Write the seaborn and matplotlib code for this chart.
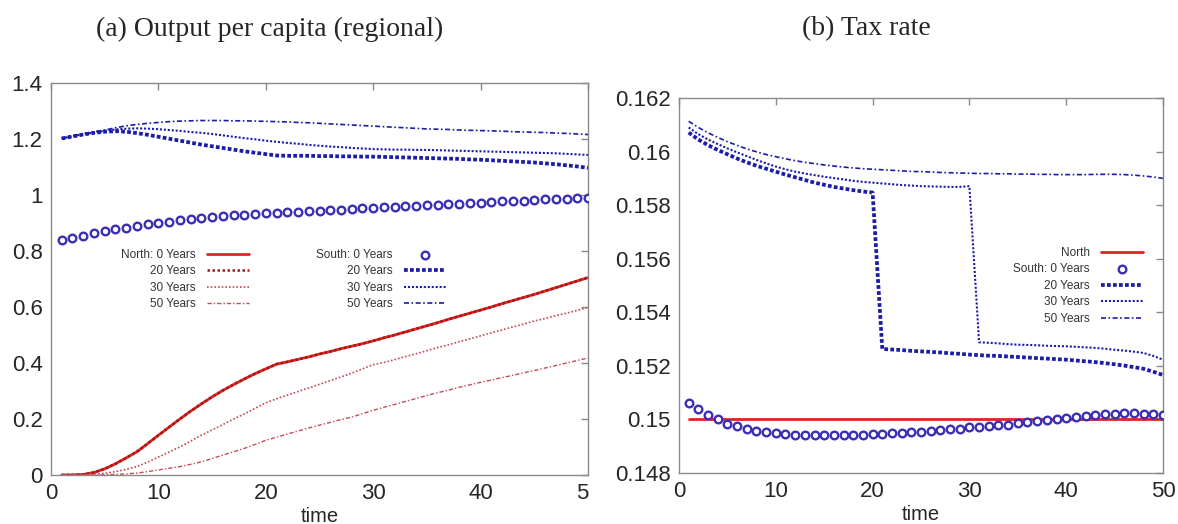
import matplotlib
matplotlib.use("Agg")
import matplotlib.pyplot as plt
import seaborn as sns
from matplotlib.transforms import Bbox, TransformedBbox

# time axis, years 1..50
time = list(range(1, 51))

# (a) output per capita, south
south_0_a = [0.839, 0.847, 0.855, 0.863, 0.870, 0.877, 0.883, 0.889, 0.895, 0.900,
             0.905, 0.909, 0.913, 0.917, 0.921, 0.924, 0.927, 0.929, 0.932, 0.934,
             0.936, 0.938, 0.940, 0.942, 0.944, 0.946, 0.948, 0.950, 0.952, 0.954,
             0.956, 0.958, 0.960, 0.962, 0.964, 0.966, 0.967, 0.969, 0.971, 0.973,
             0.975, 0.977, 0.978, 0.980, 0.982, 0.984, 0.985, 0.987, 0.988, 0.990]
south_20_a = [1.202, 1.209, 1.216, 1.222, 1.226, 1.228, 1.226, 1.221, 1.215, 1.208,
              1.201, 1.194, 1.187, 1.180, 1.174, 1.168, 1.162, 1.156, 1.151, 1.146,
              1.141, 1.140, 1.140, 1.140, 1.139, 1.139, 1.138, 1.138, 1.137, 1.137,
              1.136, 1.135, 1.134, 1.133, 1.132, 1.131, 1.130, 1.129, 1.127, 1.126,
              1.124, 1.122, 1.120, 1.118, 1.116, 1.113, 1.110, 1.106, 1.102, 1.097]
south_30_a = [1.202, 1.210, 1.217, 1.223, 1.229, 1.234, 1.237, 1.238, 1.237, 1.235,
              1.232, 1.229, 1.225, 1.222, 1.218, 1.213, 1.208, 1.203, 1.199, 1.194,
              1.190, 1.186, 1.183, 1.179, 1.176, 1.173, 1.171, 1.168, 1.166, 1.164,
              1.163, 1.162, 1.162, 1.161, 1.161, 1.160, 1.159, 1.158, 1.157, 1.156,
              1.155, 1.154, 1.153, 1.152, 1.151, 1.150, 1.149, 1.147, 1.145, 1.143]
south_50_a = [1.202, 1.211, 1.219, 1.226, 1.232, 1.240, 1.247, 1.252, 1.256, 1.259,
              1.262, 1.264, 1.265, 1.266, 1.266, 1.266, 1.265, 1.265, 1.264, 1.263,
              1.262, 1.261, 1.259, 1.258, 1.256, 1.254, 1.252, 1.250, 1.248, 1.246,
              1.244, 1.242, 1.240, 1.238, 1.236, 1.235, 1.234, 1.232, 1.231, 1.230,
              1.229, 1.228, 1.226, 1.225, 1.224, 1.223, 1.221, 1.220, 1.218, 1.216]

# (a) output per capita, north
north_20_a = [0.000, 0.0005, 0.002, 0.009, 0.022, 0.040, 0.061, 0.083, 0.112, 0.142,
              0.171, 0.200, 0.228, 0.254, 0.279, 0.302, 0.323, 0.343, 0.362, 0.379,
              0.396, 0.404, 0.413, 0.422, 0.432, 0.441, 0.451, 0.460, 0.469, 0.479,
              0.490, 0.500, 0.511, 0.522, 0.533, 0.544, 0.556, 0.567, 0.578, 0.589,
              0.600, 0.612, 0.623, 0.634, 0.645, 0.657, 0.669, 0.681, 0.693, 0.705]
# the solid 0-year line sits right under the 20-year one in the picture
north_0_a = list(north_20_a)
north_30_a = [0.000, 0.000, 0.001, 0.003, 0.006, 0.012, 0.020, 0.030, 0.046, 0.064,
              0.082, 0.100, 0.121, 0.142, 0.161, 0.180, 0.200, 0.218, 0.238, 0.258,
              0.272, 0.285, 0.298, 0.311, 0.324, 0.337, 0.350, 0.364, 0.379, 0.394,
              0.402, 0.412, 0.423, 0.433, 0.444, 0.455, 0.465, 0.476, 0.486, 0.497,
              0.508, 0.518, 0.529, 0.539, 0.550, 0.559, 0.569, 0.578, 0.588, 0.598]
north_50_a = [0.000, 0.000, 0.000, 0.000, 0.001, 0.002, 0.004, 0.007, 0.012, 0.018,
              0.024, 0.030, 0.038, 0.047, 0.059, 0.071, 0.083, 0.095, 0.109, 0.124,
              0.135, 0.146, 0.157, 0.168, 0.178, 0.188, 0.198, 0.207, 0.219, 0.231,
              0.242, 0.252, 0.263, 0.273, 0.284, 0.294, 0.303, 0.313, 0.322, 0.331,
              0.339, 0.348, 0.356, 0.365, 0.373, 0.382, 0.391, 0.400, 0.409, 0.418]

# (b) tax rate
north_b = [0.15] * 50
south_0_b = [0.15063, 0.15040, 0.15018, 0.15000, 0.14984, 0.14974, 0.14965, 0.14958, 0.14953, 0.14950,
             0.14946, 0.14943, 0.14942, 0.14942, 0.14942, 0.14942, 0.14942, 0.14943, 0.14943, 0.14944,
             0.14946, 0.14948, 0.14950, 0.14952, 0.14954, 0.14957, 0.14960, 0.14963, 0.14966, 0.14970,
             0.14972, 0.14975, 0.14978, 0.14981, 0.14985, 0.14989, 0.14994, 0.14999, 0.15002, 0.15005,
             0.15008, 0.15011, 0.15015, 0.15019, 0.15021, 0.15023, 0.15023, 0.15022, 0.15019, 0.15015]
south_20_b = [0.16071, 0.16045, 0.16024, 0.16006, 0.15990, 0.15974, 0.15960, 0.15947, 0.15936, 0.15925,
              0.15914, 0.15904, 0.15894, 0.15884, 0.15876, 0.15868, 0.15862, 0.15856, 0.15851, 0.15847,
              0.15263, 0.15261, 0.15259, 0.15256, 0.15254, 0.15252, 0.15250, 0.15247, 0.15245, 0.15242,
              0.15240, 0.15238, 0.15237, 0.15235, 0.15233, 0.15231, 0.15229, 0.15227, 0.15225, 0.15223,
              0.15220, 0.15217, 0.15214, 0.15210, 0.15206, 0.15201, 0.15195, 0.15189, 0.15178, 0.15166]
south_30_b = [0.16090, 0.16065, 0.16045, 0.16028, 0.16012, 0.15997, 0.15983, 0.15969, 0.15956, 0.15944,
              0.15934, 0.15925, 0.15918, 0.15912, 0.15906, 0.15901, 0.15896, 0.15891, 0.15887, 0.15884,
              0.15881, 0.15878, 0.15875, 0.15873, 0.15871, 0.15870, 0.15869, 0.15868, 0.15868, 0.15871,
              0.15288, 0.15286, 0.15284, 0.15281, 0.15279, 0.15278, 0.15277, 0.15275, 0.15274, 0.15273,
              0.15271, 0.15269, 0.15267, 0.15264, 0.15260, 0.15257, 0.15253, 0.15248, 0.15237, 0.15223]
south_50_b = [0.16113, 0.16090, 0.16070, 0.16053, 0.16037, 0.16023, 0.16010, 0.15999, 0.15989, 0.15981,
              0.15973, 0.15966, 0.15960, 0.15955, 0.15950, 0.15946, 0.15942, 0.15939, 0.15936, 0.15934,
              0.15932, 0.15930, 0.15928, 0.15926, 0.15925, 0.15924, 0.15922, 0.15921, 0.15920, 0.15919,
              0.15918, 0.15918, 0.15917, 0.15917, 0.15916, 0.15916, 0.15915, 0.15915, 0.15914, 0.15914,
              0.15914, 0.15914, 0.15915, 0.15915, 0.15915, 0.15914, 0.15912, 0.15909, 0.15905, 0.15900]

# ticks
x_ticks = [0, 10, 20, 30, 40, 50]
y_ticks_a = [0, 0.2, 0.4, 0.6, 0.8, 1.0, 1.2, 1.4]
y_labels_a = ["0", "0.2", "0.4", "0.6", "0.8", "1", "1.2", "1.4"]
y_ticks_b = [0.148, 0.150, 0.152, 0.154, 0.156, 0.158, 0.160, 0.162]
y_labels_b = ["0.148", "0.15", "0.152", "0.154", "0.156", "0.158", "0.16", "0.162"]

titles = ["(a) Output per capita (regional)", "(b) Tax rate"]

sns.set_style("white")
plt.rcParams['font.family'] = ['Liberation Sans', 'DejaVu Sans']

RED = "#e02222"
DRED = "#a01818"
PRED = "#c84858"
BLUE = "#1c1ca8"
CIRC = "#3b2fb5"
GRAY = "#8a8a8a"

fig = plt.figure(figsize=(11.78, 5.24), dpi=100)
ax1 = fig.add_axes([51 / 1178, 1 - 475 / 524, 537 / 1178, 392 / 524])
ax2 = fig.add_axes([679 / 1178, 1 - 473 / 524, 484 / 1178, 375 / 524])

north_styles = [
    dict(color=RED, lw=2.0, linestyle="-"),
    dict(color=DRED, lw=1.8, linestyle=(0, (1, 1))),
    dict(color=PRED, lw=1.2, linestyle=(0, (1, 1.2))),
    dict(color=PRED, lw=1.0, linestyle=(0, (3, 1.5, 1, 1.5))),
]
south_styles = [
    dict(color=BLUE, lw=2.7, linestyle=(0, (1, 0.6))),
    dict(color=BLUE, lw=1.5, linestyle=(0, (1, 0.9))),
    dict(color=BLUE, lw=1.2, linestyle=(0, (3, 1.5, 1, 1.5))),
]
year_labels = ["20 Years", "30 Years", "50 Years"]
circ_kw = dict(marker="o", s=30, facecolor="white", edgecolor=CIRC, linewidth=1.7, zorder=5)

# ---- panel (a)
north_a = [north_0_a, north_20_a, north_30_a, north_50_a]
north_lab = ["North: 0 Years"] + year_labels
for vals, st, lab in zip(north_a, north_styles, north_lab):
    sns.lineplot(x=time, y=vals, ax=ax1, label=lab, **st)
for vals, st, lab in zip([south_20_a, south_30_a, south_50_a], south_styles, year_labels):
    sns.lineplot(x=time, y=vals, ax=ax1, label="S " + lab, **st)
sns.scatterplot(x=time, y=south_0_a, ax=ax1, label="South: 0 Years", **circ_kw)

h, l = ax1.get_legend_handles_labels()
hd = dict(zip(l, h))
if ax1.get_legend():
    ax1.get_legend().remove()

leg_kw = dict(frameon=False, markerfirst=False, fontsize=8.5, handlelength=3.6,
              handletextpad=0.9, labelspacing=0.38, borderpad=0, borderaxespad=0,
              loc="upper right", bbox_transform=fig.transFigure, labelcolor="#333333")
leg1 = ax1.legend([hd[k] for k in north_lab], north_lab,
                  bbox_to_anchor=(249 / 1178, 1 - 249 / 524), **leg_kw)
ax1.add_artist(leg1)
south_keys = ["South: 0 Years"] + ["S " + y for y in year_labels]
ax1.legend([hd[k] for k in south_keys], ["South: 0 Years"] + year_labels,
           bbox_to_anchor=(446 / 1178, 1 - 249 / 524), **leg_kw)

ax1.set_xlim(0, 50)
ax1.set_ylim(0, 1.4)
ax1.set_yticks(y_ticks_a, y_labels_a)

# ---- panel (b)
sns.lineplot(x=time, y=north_b, ax=ax2, label="North", color=RED, lw=2.0)
sns.scatterplot(x=time, y=south_0_b, ax=ax2, label="South: 0 Years", **circ_kw)
for vals, st, lab in zip([south_20_b, south_30_b, south_50_b], south_styles, year_labels):
    sns.lineplot(x=time, y=vals, ax=ax2, label=lab, **st)
h, l = ax2.get_legend_handles_labels()
hd = dict(zip(l, h))
if ax2.get_legend():
    ax2.get_legend().remove()
keys_b = ["North", "South: 0 Years"] + year_labels
ax2.legend([hd[k] for k in keys_b], keys_b,
           bbox_to_anchor=(1143 / 1178, 1 - 247 / 524), **leg_kw)
ax2.set_xlim(0, 50)
ax2.set_ylim(0.148, 0.162)
ax2.set_yticks(y_ticks_b, y_labels_b)

for ax in (ax1, ax2):
    ax.set_xticks(x_ticks, [str(v) for v in x_ticks])
    ax.set_xlabel("time", fontsize=14.5, labelpad=2)
    ax.set_ylabel("")
    ax.tick_params(direction="in", length=5, width=1, color=GRAY, top=True, right=True,
                   labelsize=16, pad=6)
    for sp in ax.spines.values():
        sp.set_color(GRAY)
        sp.set_linewidth(1)

fig.text(270 / 1178, 1 - 29 / 524, titles[0], family="Liberation Serif", fontsize=20,
         ha="center", va="center")
fig.text(866 / 1178, 1 - 29 / 524, titles[1], family="Liberation Serif", fontsize=20,
         ha="center", va="center")

# left panel was cropped in the original: only the "5" of "50" shows
fig.canvas.draw()
clip = TransformedBbox(Bbox([[0, 0], [589 / 1178, 1]]), fig.transFigure)
lbl = ax1.xaxis.get_majorticklabels()[-1]
lbl.set_clip_box(clip)
lbl.set_clip_on(True)

fig.savefig("out.png", dpi=100)
